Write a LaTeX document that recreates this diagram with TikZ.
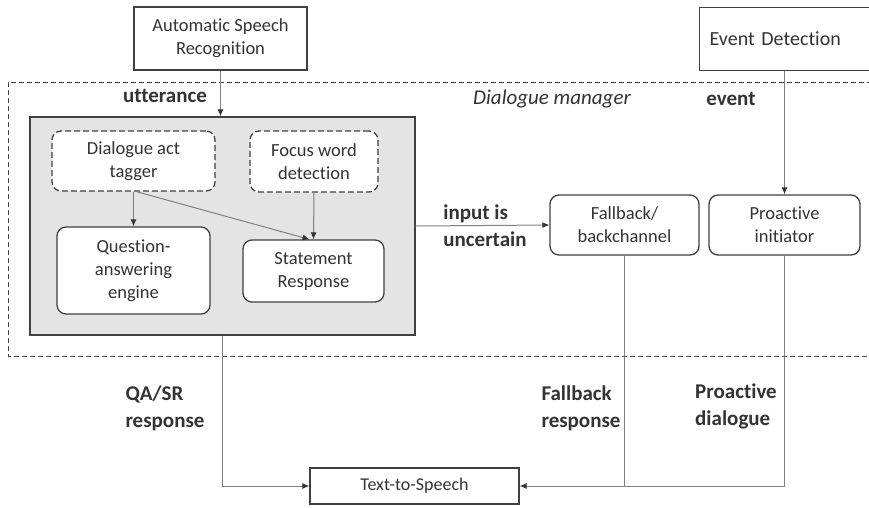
\documentclass[tikz,border=0pt]{standalone}
\usepackage{fontspec}
\setmainfont[Ligatures={NoCommon}]{Carlito}
\usetikzlibrary{arrows.meta,calc}
\definecolor{txt}{HTML}{333333}
\definecolor{bord}{HTML}{404040}
\definecolor{conn}{HTML}{808080}
\definecolor{grayfill}{HTML}{E4E4E4}
\tikzset{
  box/.style={draw=bord, line width=1.3pt, fill=white, text=txt, align=center, inner sep=2pt,
    font=\fontsize{18.5}{23}\selectfont},
  rbox/.style={box, rounded corners=9pt},
  dbox/.style={rbox, dashed, dash pattern=on 6pt off 3pt},
  lbl/.style={text=txt, align=left, inner sep=0pt, font=\fontsize{21}{27}\selectfont\bfseries},
  conn/.style={draw=conn, line width=1pt},
  arr/.style={conn, -{Latex[length=7pt,width=6pt,color=black!80]}},
}
\begin{document}
\begin{tikzpicture}[x=1pt,y=-1pt]
\useasboundingbox (0,0) rectangle (869,507);
% dialogue manager dashed frame
\draw[draw=bord, line width=1pt, dash pattern=on 5pt off 3pt] (880,82) -- (8,82) -- (8,356) -- (880,356);
% grey block
\node[draw=bord, line width=1.3pt, fill=grayfill, minimum width=385, minimum height=218, inner sep=0pt] (core) at (222.5,226) {};
% nodes
\node[box, minimum width=173, minimum height=63] (asr) at (220.5,38.5) {Automatic Speech\\Recognition};
\node[box, anchor=north west, minimum width=190, minimum height=63, inner xsep=9pt, align=left, text width=170,
  font=\fontsize{20}{24}\selectfont] (ed) at (699,7) {Event Detection};
\node[dbox, minimum width=163, minimum height=60] (dat) at (133.5,161) {Dialogue act\\tagger};
\node[dbox, minimum width=128, minimum height=61] (fwd) at (314,161.5) {Focus word\\detection};
\node[rbox, minimum width=153, minimum height=87] (qa) at (133.5,270.5) {Question-\\answering\\engine};
\node[rbox, minimum width=141, minimum height=62] (sr) at (313.5,271) {Statement\\Response};
\node[rbox, minimum width=149, minimum height=60] (fb) at (624.5,225) {Fallback/\\backchannel};
\node[rbox, minimum width=151, minimum height=60] (pi) at (784.5,225) {Proactive\\initiator};
\node[box, minimum width=209, minimum height=36, font=\fontsize{18}{22}\selectfont] (tts) at (414.5,486) {Text-to-Speech};
% labels
\node[lbl] (lutt) at (165,96) {utterance};
\node[text=txt, inner sep=0pt, font=\fontsize{21}{27}\selectfont\itshape] (ldm) at (552,99) {Dialogue manager};
\node[lbl] (lev) at (731,99) {event};
\node[lbl] (lin) at (485,226) {input is\\uncertain};
\node[lbl] (lqa) at (165,408) {QA/SR\\response};
\node[lbl] (lfb) at (581,408) {Fallback\\response};
\node[lbl] (lpd) at (736,406) {Proactive\\dialogue};
% connectors
\draw[arr] (asr.south) -- (asr.south |- core.north);
\draw[arr] (pi.north |- ed.south) -- (pi.north);
\draw[arr] (dat.south) -- (qa.north);
\draw[arr] ([xshift=3pt]dat.south) -- ([xshift=-4pt]sr.north);
\draw[arr] (fwd.south) -- (sr.north);
\draw[arr] (core.east) -- (fb.west);
\draw[arr] (core.south) |- (tts.west);
\draw[arr] (fb.south) |- (tts.east);
\draw[conn] (pi.south) |- (fb.south |- tts.east);
\end{tikzpicture}
\end{document}
